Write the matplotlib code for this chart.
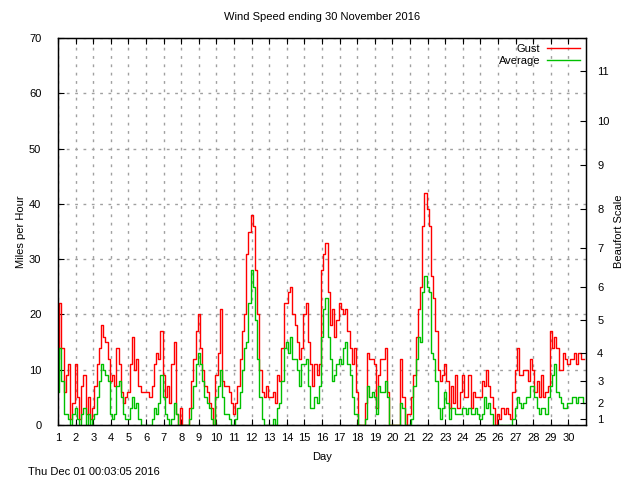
import numpy as np
import matplotlib
matplotlib.use('Agg')
import matplotlib.pyplot as plt

# 3-hourly readings, one row per day of November 2016 (mph)
gust = [
    12, 22, 14, 6, 9, 11, 1, 4,      # 1
    11, 5, 1, 7, 9, 2, 5, 1,         # 2
    3, 7, 11, 14, 18, 16, 15, 12,    # 3
    8, 9, 7, 14, 11, 6, 4, 5,        # 4
    6, 11, 16, 10, 12, 7, 6, 6,      # 5
    6, 6, 5, 7, 11, 13, 12, 17,      # 6
    9, 5, 7, 4, 11, 15, 2, 0,        # 7
    3, 0, 0, 0, 3, 8, 12, 17,        # 8
    20, 14, 10, 7, 6, 4, 3, 0,       # 9
    9, 13, 21, 8, 7, 7, 6, 4,        # 10
    2, 4, 7, 12, 17, 20, 31, 35,     # 11
    38, 36, 28, 20, 10, 6, 5, 7,     # 12
    5, 5, 6, 4, 9, 8, 14, 22,        # 13
    22, 24, 25, 20, 18, 15, 12, 14,  # 14
    20, 22, 15, 11, 7, 11, 9, 11,    # 15
    28, 31, 33, 24, 18, 21, 16, 19,  # 16
    22, 21, 20, 21, 17, 14, 11, 14,  # 17
    6, 0, 0, 0, 4, 13, 12, 12,       # 18
    11, 3, 9, 12, 12, 14, 6, 0,      # 19
    0, 0, 0, 0, 12, 5, 0, 2,         # 20
    2, 5, 9, 16, 21, 25, 36, 42,     # 21
    39, 36, 27, 23, 17, 10, 8, 9,    # 22
    11, 8, 3, 7, 4, 9, 3, 6,         # 23
    9, 5, 5, 9, 3, 6, 5, 5,          # 24
    5, 8, 7, 10, 7, 5, 3, 0,         # 25
    2, 1, 3, 2, 3, 2, 1, 6,          # 26
    10, 14, 9, 9, 10, 10, 8, 12,     # 27
    10, 6, 8, 5, 9, 5, 6, 7,         # 28
    17, 14, 16, 14, 10, 10, 13, 12,  # 29
    11, 12, 12, 13, 11, 13, 12, 12,  # 30
]

average = [
    6, 14, 8, 2, 2, 1, 0, 2,         # 1
    3, 1, 0, 2, 3, 0, 2, 0,          # 2
    1, 2, 5, 8, 11, 10, 9, 8,        # 3
    2, 1, 2, 7, 8, 5, 2, 1,          # 4
    1, 3, 5, 3, 4, 1, 0, 0,          # 5
    0, 0, 0, 1, 3, 2, 4, 9,          # 6
    5, 2, 1, 0, 1, 4, 2, 0,          # 7
    0, 0, 0, 0, 1, 3, 7, 11,         # 8
    13, 11, 8, 5, 4, 3, 1, 0,        # 9
    5, 7, 10, 5, 2, 2, 1, 0,         # 10
    0, 1, 3, 6, 10, 14, 15, 22,      # 11
    28, 25, 19, 12, 5, 1, 0, 0,      # 12
    0, 0, 1, 0, 3, 4, 8, 14,         # 13
    15, 13, 16, 12, 12, 10, 7, 11,   # 14
    11, 12, 7, 3, 3, 5, 4, 7,        # 15
    16, 21, 23, 16, 12, 8, 9, 11,    # 16
    12, 11, 14, 15, 11, 9, 5, 2,     # 17
    2, 0, 0, 0, 1, 7, 5, 6,          # 18
    5, 2, 7, 6, 6, 8, 5, 0,          # 19
    0, 0, 0, 0, 4, 3, 0, 0,          # 20
    0, 1, 7, 12, 16, 15, 24, 27,     # 21
    25, 24, 13, 12, 8, 3, 1, 3,      # 22
    6, 4, 1, 3, 3, 2, 2, 2,          # 23
    3, 3, 2, 3, 2, 2, 3, 2,          # 24
    1, 2, 5, 3, 4, 2, 0, 0,          # 25
    0, 0, 0, 0, 0, 0, 0, 1,          # 26
    3, 5, 4, 3, 4, 5, 5, 7,          # 27
    7, 5, 3, 2, 3, 3, 2, 5,          # 28
    7, 9, 11, 6, 5, 4, 3, 3,         # 29
    4, 4, 5, 5, 4, 5, 5, 4,          # 30
]

day_ticks = list(range(1, 31))
beaufort_mph = [1, 4, 8, 13, 19, 25, 32, 39, 47, 55, 64]
beaufort_labels = [str(n) for n in range(1, 12)]

samples_per_day = 8
day = 1 + np.arange(len(gust)) / samples_per_day

plt.rcParams['font.family'] = ['Liberation Sans', 'DejaVu Sans']
plt.rcParams['font.size'] = 8

fig = plt.figure(figsize=(6.4, 4.8), dpi=100)
ax = fig.add_axes([58 / 640, 55 / 480, 528 / 640, 387 / 480])

ax.plot(day, gust, color='#ff0000', lw=1, label='Gust', drawstyle='steps-mid')
ax.plot(day, average, color='#00c000', lw=1, label='Average', drawstyle='steps-mid')

ax.set_xlim(1, 31)
ax.set_ylim(0, 70)
ax.set_xticks(day_ticks)
ax.set_yticks(range(0, 71, 10))
ax.grid(True, color='#a0a0a0', linestyle=(0, (2, 4)), lw=1)
ax.tick_params(direction='in', length=4, top=True, pad=6, labelsize=8)
ax.tick_params(axis='y', pad=12)
for s in ax.spines.values():
    s.set_linewidth(1)

ax.set_xlabel('Day', labelpad=6)
ax.set_ylabel('Miles per Hour', labelpad=2)
ax.set_title('Wind Speed ending 30 November 2016', fontsize=8, pad=13)

ax2 = ax.twinx()
ax2.set_ylim(0, 70)
ax2.set_yticks(beaufort_mph)
ax2.set_yticklabels(beaufort_labels)
ax2.tick_params(direction='in', length=4, pad=8, labelsize=8)
ax2.set_ylabel('Beaufort Scale', labelpad=3)

leg = ax.legend(loc='upper right', frameon=False, markerfirst=False,
                handlelength=3, borderaxespad=0.1, labelspacing=0.25,
                handletextpad=0.6)

fig.text(28 / 640, 8 / 480, 'Thu Dec 01 00:03:05 2016', fontsize=8, va='center')

fig.savefig('out.png', dpi=100)
